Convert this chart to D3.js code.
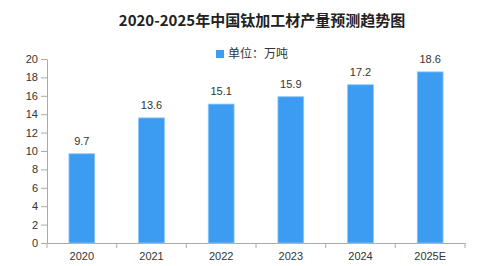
<!DOCTYPE html>
<html>
<head>
<meta charset="utf-8">
<script src="https://cdn.jsdelivr.net/npm/d3@7"></script>
<style>
  body { margin: 0; background: #fff; }
  svg text { font-family: "Liberation Sans", Arial, sans-serif; }
</style>
</head>
<body>
<svg id="chart" width="503" height="266"></svg>
<script>
// Chart data
const years = ["2020", "2021", "2022", "2023", "2024", "2025E"];
const output = [9.7, 13.6, 15.1, 15.9, 17.2, 18.6];
const yTicks = [0, 2, 4, 6, 8, 10, 12, 14, 16, 18, 20];
const titleText = "2020-2025年中国钛加工材产量预测趋势图";
const legendText = "单位：万吨";

const svg = d3.select("#chart"),
    margin = {top: 59, right: 38, bottom: 23, left: 47},
    width = +svg.attr("width") - margin.left - margin.right,
    height = +svg.attr("height") - margin.top - margin.bottom;

const chart = svg.append("g").attr("transform", `translate(${margin.left},${margin.top})`);

// Scales
const x = d3.scaleBand().domain(years).range([0, width]).padding(0);
const y = d3.scaleLinear().domain([0, 20]).range([height, 0]);
const barWidth = x.bandwidth() * 0.37;

// Title
svg.append("text")
    .attr("x", 262)
    .attr("y", 26)
    .attr("text-anchor", "middle")
    .style("font-family", "'Noto Sans CJK SC', sans-serif")
    .style("font-weight", "bold")
    .style("font-size", "15px")
    .style("fill", "#222")
    .text(titleText);

// Legend
svg.append("rect")
    .attr("x", 216).attr("y", 50)
    .attr("width", 8).attr("height", 8)
    .attr("fill", "#3c9cf2");
svg.append("text")
    .attr("x", 228).attr("y", 58)
    .style("font-family", "'Noto Sans CJK SC', sans-serif")
    .style("font-size", "12px")
    .style("fill", "#333")
    .text(legendText);

// Y axis
const yAxis = chart.append("g")
    .call(d3.axisLeft(y).tickValues(yTicks).tickSize(6).tickSizeOuter(0));
yAxis.select(".domain").attr("stroke", "#aaa");
yAxis.selectAll(".tick line").attr("stroke", "#aaa");
yAxis.selectAll(".tick text")
    .attr("x", -9)
    .style("font-size", "11px")
    .style("fill", "#333");

// X axis: labels at band centres, ticks at band boundaries
const xAxis = chart.append("g")
    .attr("transform", `translate(0,${height})`)
    .call(d3.axisBottom(x).tickSize(0).tickSizeOuter(0));
xAxis.select(".domain").attr("stroke", "#aaa");
xAxis.selectAll(".tick text")
    .attr("dy", "1.25em")
    .style("font-size", "11px")
    .style("fill", "#333");

const bounds = years.map(d => x(d)).concat([width]);
xAxis.selectAll(".bound")
    .data(bounds)
    .enter().append("line")
    .attr("class", "bound")
    .attr("x1", d => d).attr("x2", d => d)
    .attr("y1", 0).attr("y2", 5)
    .attr("stroke", "#aaa");

// Bars
chart.selectAll(".bar")
    .data(output)
    .enter().append("rect")
    .attr("class", "bar")
    .attr("x", (d, i) => x(years[i]) + (x.bandwidth() - barWidth) / 2)
    .attr("y", d => y(d))
    .attr("width", barWidth)
    .attr("height", d => height - y(d))
    .attr("fill", "#3c9cf2")
    .attr("stroke", "#8fc6f7")
    .attr("stroke-width", 0.8);

// Value labels
chart.selectAll(".val")
    .data(output)
    .enter().append("text")
    .attr("class", "val")
    .attr("x", (d, i) => x(years[i]) + x.bandwidth() / 2)
    .attr("y", d => y(d) - 9)
    .attr("text-anchor", "middle")
    .style("font-size", "11px")
    .style("fill", "#333")
    .text(d => d.toFixed(1));
</script>
</body>
</html>
